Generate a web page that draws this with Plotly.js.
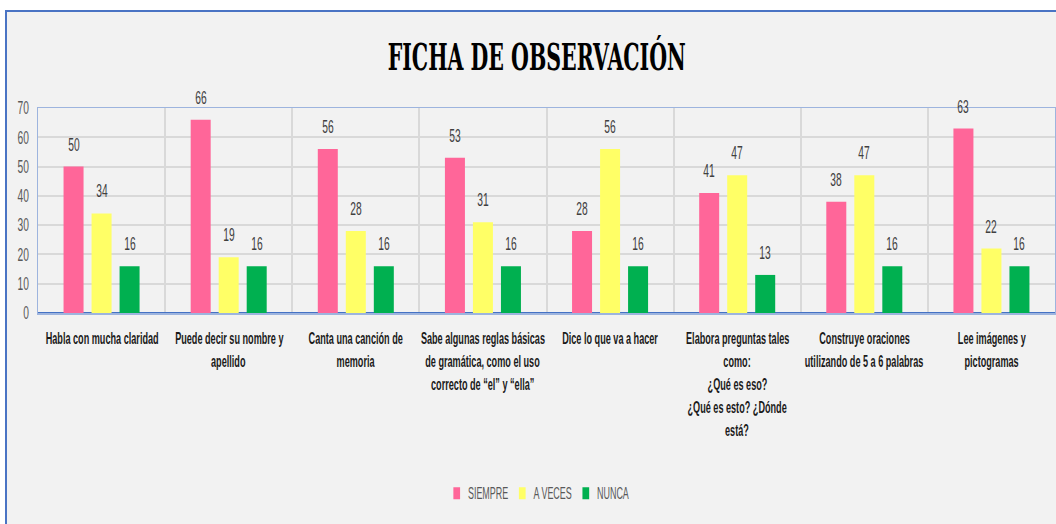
<!DOCTYPE html>
<html><head><meta charset="utf-8">
<script src="https://cdn.plot.ly/plotly-3.0.1.min.js"></script>
<style>
html,body{margin:0;padding:0;background:#fff;width:1056px;height:524px;overflow:hidden}
#wrap{position:absolute;left:5px;top:10px;width:1051px;height:514px;border-left:2px solid #4A74C4;border-top:2px solid #4A74C4;background:#F2F2F2}
#chart{width:1049px;height:512px}
</style></head><body>
<div id="wrap"><div id="chart"></div></div>
<script>
const categories = [
  "Habla con mucha claridad",
  "Puede decir su nombre y<br>apellido",
  "Canta una canción de<br>memoria",
  "Sabe algunas reglas básicas<br>de gramática, como el uso<br>correcto de “el” y “ella”",
  "Dice lo que va a hacer",
  "Elabora preguntas tales<br>como:<br>¿Qué es eso?<br>¿Qué es esto? ¿Dónde<br>está?",
  "Construye oraciones<br>utilizando de 5 a 6 palabras",
  "Lee imágenes y<br>pictogramas"
];
const seriesNames = ["SIEMPRE", "A VECES", "NUNCA"];
const siempre = [50, 66, 56, 53, 28, 41, 38, 63];
const aVeces  = [34, 19, 28, 31, 56, 47, 47, 22];
const nunca   = [16, 16, 16, 16, 16, 13, 16, 16];
const colors = ["#FF6699", "#FFFF66", "#00B050"];
const seriesValues = [siempre, aVeces, nunca];

const xKeys = categories.map((c, i) => "c" + i);
const sans = "'Liberation Sans', Arial, sans-serif";

const traces = seriesValues.map((vals, s) => ({
  type: "bar", name: seriesNames[s], x: xKeys, y: vals,
  marker: {color: colors[s]}, hoverinfo: "skip"
}));

const annotations = [];
// value labels
seriesValues.forEach((vals, s) => {
  vals.forEach((v, i) => {
    annotations.push({
      x: xKeys[i], y: v, xref: "x", yref: "y", text: String(v), showarrow: false,
      xshift: (s - 1) * 28, yshift: 22, yanchor: "middle",
      font: {family: sans, size: 18, color: "#404040"}
    });
  });
});
// category labels, one line each
categories.forEach((c, i) => {
  c.split("<br>").forEach((line, j) => {
    annotations.push({
      x: xKeys[i], y: 0, xref: "x", yref: "paper", text: "<b>" + line + "</b>", showarrow: false,
      yanchor: "middle", yshift: -(25 + j * 23),
      font: {family: sans, size: 16, color: "#1A1A1A"}
    });
  });
});

const layout = {
  width: 1049, height: 512,
  paper_bgcolor: "#F2F2F2", plot_bgcolor: "#F2F2F2",
  margin: {l: 31, r: 1, t: 96, b: 211},
  title: {text: "<b>FICHA DE OBSERVACIÓN</b>", x: 0.505, xref: "container", xanchor: "center",
          y: 0.913, yref: "container", yanchor: "middle",
          font: {family: "'DejaVu Serif', serif", size: 38, color: "#000"}},
  barmode: "group", bargap: 0.339, bargroupgap: 0.286,
  xaxis: {type: "category", range: [-0.5, 7.5], showticklabels: false, tickson: "boundaries", ticks: "",
          showgrid: true, gridcolor: "#D9D9D9", gridwidth: 2,
          showline: true, mirror: true, linecolor: "#9DB4DE", linewidth: 1.5, fixedrange: true},
  yaxis: {range: [0, 70], dtick: 10, showgrid: true, gridcolor: "#D9D9D9", gridwidth: 2,
          zeroline: true, zerolinecolor: "#4472C4", zerolinewidth: 2.5,
          showline: true, mirror: true, linecolor: "#9DB4DE", linewidth: 1.5,
          ticks: "", ticklabelstandoff: 4,
          tickfont: {family: sans, size: 18, color: "#595959"}, fixedrange: true},
  showlegend: true,
  legend: {orientation: "h", x: 0.493, xanchor: "center", y: 0.06, yref: "container", yanchor: "middle",
           font: {family: sans, size: 16, color: "#595959"}, itemwidth: 30, traceorder: "normal",
           bgcolor: "rgba(0,0,0,0)"},
  annotations: annotations
};

function squeeze(sel, k, origin) {
  document.querySelectorAll(sel).forEach(el => {
    el.style.transformBox = "fill-box";
    el.style.transformOrigin = origin;
    el.style.transform = "scaleX(" + k + ")";
  });
}
Plotly.newPlot("chart", traces, layout, {displayModeBar: false, staticPlot: true}).then(() => {
  squeeze(".gtitle", 0.54, "center");
  squeeze(".annotation-text", 0.57, "center");
  squeeze(".yaxislayer-above", 0.57, "right center");
  squeeze(".legend .scrollbox", 0.56, "center");
});
</script>
</body></html>
